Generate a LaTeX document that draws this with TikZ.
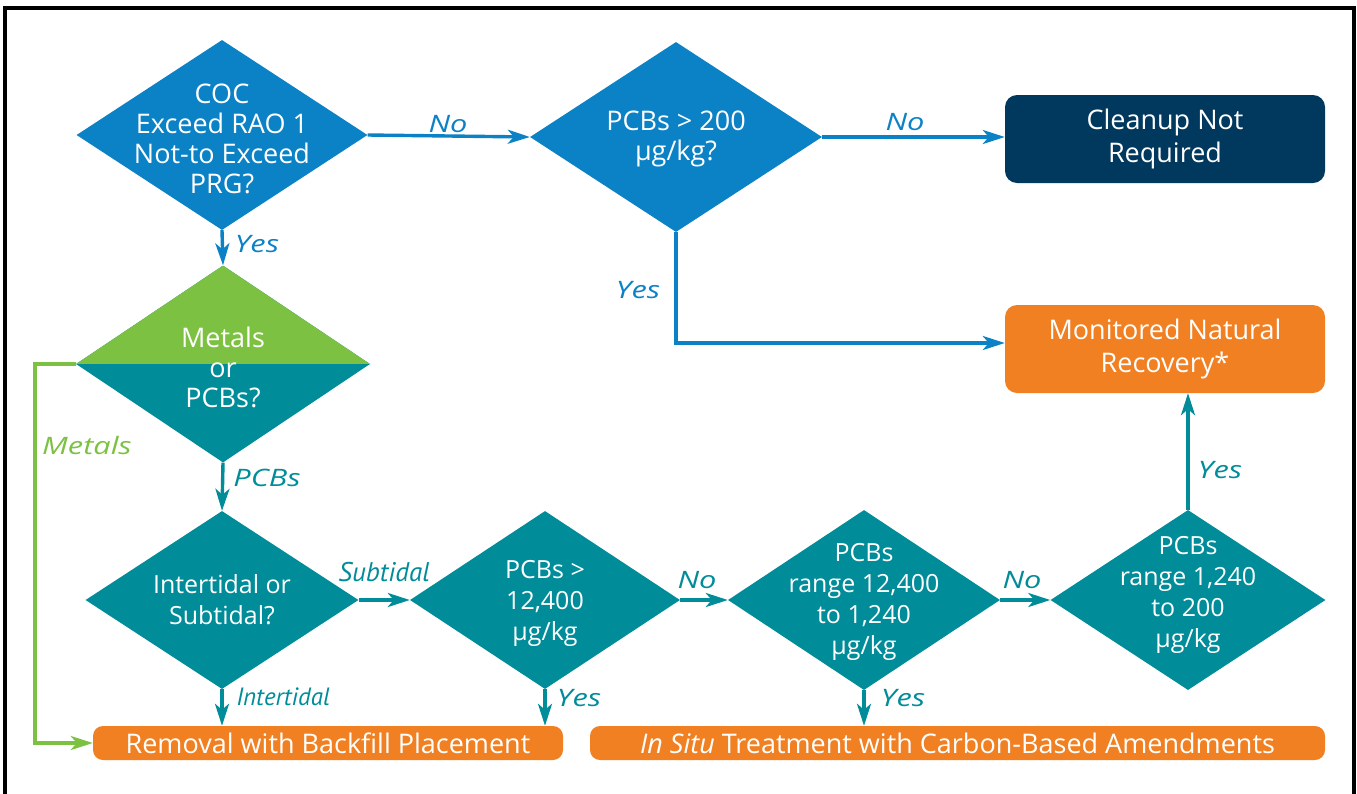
\documentclass[tikz,border=0pt]{standalone}
\usepackage{fontspec}
\setmainfont{Open Sans}
\newfontfamily\condfont{PT Sans}
\newfontfamily\lblfont[FakeStretch=1.28]{Open Sans}
\usetikzlibrary{shapes.geometric,arrows.meta,calc}
\definecolor{cblue}{RGB}{11,129,198}
\definecolor{cteal}{RGB}{0,140,153}
\definecolor{cgreen}{RGB}{125,193,66}
\definecolor{corange}{RGB}{240,128,34}
\definecolor{cnavy}{RGB}{0,56,94}
\begin{document}
\begin{tikzpicture}[x=1pt,y=-1pt,
  dia/.style={diamond,inner sep=0pt,draw=none},
  dtxt/.style={text=white,align=center,font=\fontsize{27}{30}\selectfont},
  ctxt/.style={text=white,align=center,font=\fontsize{25}{31}\selectfont},
  topbox/.style={rounded corners=12pt,minimum width=320pt,minimum height=88pt,align=center,text=white,font=\fontsize{27}{33}\selectfont},
  botbox/.style={rounded corners=10pt,minimum height=34pt,text=white,font=\fontsize{27}{30}\selectfont,inner sep=0pt},
  conn/.style={line width=3.4pt,-{Stealth[length=22pt,width=14pt,inset=6pt]}},
  lbl/.style={font=\lblfont\itshape\fontsize{24}{26}\selectfont,inner sep=0pt},
  clbl/.style={font=\condfont\itshape\fontsize{27}{28}\selectfont,inner sep=0pt}
]
\useasboundingbox (0,0) rectangle (1357,793);
\begin{scope}
\clip (0,0) rectangle (1357,793);
\draw[line width=4pt] (5,8) rectangle (1354,810);
\end{scope}

% diamonds
\node[dia,fill=cblue,minimum width=291pt,minimum height=190pt,
  label={[dtxt,yshift=-4pt]center:COC\\Exceed RAO 1\\Not-to Exceed\\PRG?}] (coc) at (222,135) {};
\node[dia,fill=cblue,minimum width=292pt,minimum height=190pt,
  label={[dtxt,yshift=-2pt]center:PCBs > 200\\µg/kg?}] (p200) at (676,137) {};
\node[dia,fill=cteal,minimum width=294pt,minimum height=197pt,
  path picture={\fill[cgreen] (path picture bounding box.north west) rectangle (path picture bounding box.east);},
  label={[dtxt,yshift=-3pt]center:Metals\\or\\PCBs?}] (mp) at (223,364) {};
\node[dia,fill=cteal,minimum width=273pt,minimum height=178pt,
  label={[ctxt]center:Intertidal or\\Subtidal?}] (tid) at (222,600) {};
\node[dia,fill=cteal,minimum width=270pt,minimum height=178pt,
  label={[ctxt,yshift=-3pt]center:PCBs >\\12,400\\µg/kg}] (p124) at (545,600) {};
\node[dia,fill=cteal,minimum width=272pt,minimum height=180pt,
  label={[ctxt,yshift=-2pt]center:PCBs\\range 12,400\\to 1,240\\µg/kg}] (rng1) at (864,600) {};
\node[dia,fill=cteal,minimum width=275pt,minimum height=180pt,
  label={[ctxt,yshift=5pt]center:PCBs\\range 1,240\\to 200\\µg/kg}] (rng2) at (1188,600) {};

% boxes
\node[topbox,fill=cnavy] (clean) at (1165,139) {Cleanup Not\\Required};
\node[topbox,fill=corange] (mnr) at (1165,349) {Monitored Natural\\Recovery*};
\node[botbox,fill=corange,minimum width=470pt] (rem) at (328,743) {Removal with Backfill Placement};
\node[botbox,fill=corange,minimum width=735pt] (insitu) at (957.5,743) {\textit{In Situ} Treatment with Carbon-Based Amendments};

% connectors
\draw[conn,cblue] (coc.east) -- (p200.west);
\draw[conn,cblue] (p200.east) -- (clean.west |- p200.east);
\draw[conn,cblue] (p200.south) |- ([yshift=6pt]mnr.west);
\draw[conn,cblue] (coc.south) -- (mp.north);
\draw[conn,cgreen] (mp.west) -- ++(-41,0) |- (rem.west);
\draw[conn,cteal] (mp.south) -- (tid.north);
\draw[conn,cteal] (tid.east) -- (p124.west);
\draw[conn,cteal] (p124.east) -- (rng1.west);
\draw[conn,cteal] (rng1.east) -- (rng2.west);
\draw[conn,cteal] (tid.south) -- (tid.south |- rem.north);
\draw[conn,cteal] (p124.south) -- (p124.south |- rem.north);
\draw[conn,cteal] (rng1.south) -- (rng1.south |- insitu.north);
\draw[conn,cteal] (rng2.north) -- (rng2.north |- mnr.south);

% labels
\node[lbl,text=cblue] (l1) at (257,244) {Yes};
\node[lbl,text=cblue] (l2) at (448,124) {No};
\node[lbl,text=cblue] (l3) at (905,122) {No};
\node[lbl,text=cblue] (l4) at (638,290) {Yes};
\node[lbl,text=cgreen] (l5) at (87,445) {Metals};
\node[lbl,text=cteal] (l6) at (267,478) {PCBs};
\node[clbl,text=cteal] (l7) at (384,572) {Subtidal};
\node[clbl,text=cteal,font=\condfont\itshape\fontsize{25}{26}\selectfont] (l8) at (283,697) {Intertidal};
\node[lbl,text=cteal] (l9) at (579,698) {Yes};
\node[lbl,text=cteal] (l10) at (697,580) {No};
\node[lbl,text=cteal] (l11) at (1022,580) {No};
\node[lbl,text=cteal] (l12) at (903,698) {Yes};
\node[lbl,text=cteal] (l13) at (1220,470) {Yes};
\end{tikzpicture}
\end{document}
